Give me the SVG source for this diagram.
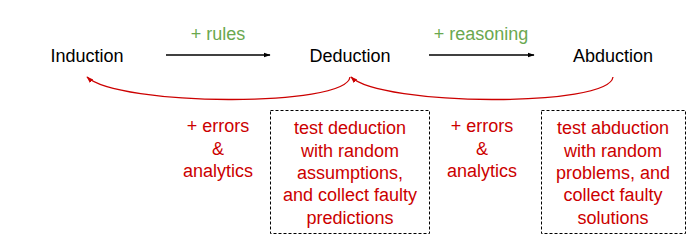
<svg xmlns="http://www.w3.org/2000/svg" width="700" height="248" viewBox="0 0 700 248">
<defs>
<marker id="ab" viewBox="0 0 10 10" refX="9" refY="5" markerWidth="7" markerHeight="7" orient="auto" markerUnits="userSpaceOnUse"><path d="M0,1.5 L10,5 L0,8.5 z" fill="#000"/></marker>
<marker id="ar" viewBox="0 0 10 10" refX="9" refY="5" markerWidth="7" markerHeight="7" orient="auto" markerUnits="userSpaceOnUse"><path d="M0,1.5 L10,5 L0,8.5 z" fill="#cc0000"/></marker>
<style>
text{font-family:"Liberation Sans",Arial,sans-serif;font-size:18px;text-anchor:middle}
.n{fill:#000}
.g{fill:#6aa84f}
.r{fill:#cc0000}
.box{fill:none;stroke:#000;stroke-width:1;stroke-dasharray:3,2}
.blk{fill:none;stroke:#000;stroke-width:1.3}
.red{fill:none;stroke:#cc0000;stroke-width:1.3}
</style>
</defs>
<rect width="700" height="248" fill="#fff"/>
<g id="induction"><text class="n" x="87" y="62">Induction</text></g>
<g id="deduction"><text class="n" x="350" y="62">Deduction</text></g>
<g id="abduction"><text class="n" x="613" y="62">Abduction</text></g>
<g id="connectors">
<path class="blk" d="M166,55 L270,55" marker-end="url(#ab)"/>
<path class="blk" d="M429,55 L534,55" marker-end="url(#ab)"/>
<path class="red" d="M350,77 C346,108 118,106 87,77" marker-end="url(#ar)"/>
<path class="red" d="M613,77 C609,108 381,106 351,77" marker-end="url(#ar)"/>
<text class="g" x="218" y="40">+ rules</text>
<text class="g" x="481" y="40">+ reasoning</text>
</g>
<g id="errors1">
<text class="r" x="218" y="132">+ errors</text>
<text class="r" x="218" y="155">&amp;</text>
<text class="r" x="218" y="177">analytics</text>
</g>
<g id="box1">
<rect class="box" x="270.5" y="110.5" width="159" height="123"/>
<text class="r" x="350" y="134">test deduction</text>
<text class="r" x="350" y="156.5">with random</text>
<text class="r" x="350" y="179">assumptions,</text>
<text class="r" x="350" y="201">and collect faulty</text>
<text class="r" x="350" y="223.5">predictions</text>
</g>
<g id="errors2">
<text class="r" x="482" y="132">+ errors</text>
<text class="r" x="482" y="155">&amp;</text>
<text class="r" x="482" y="177">analytics</text>
</g>
<g id="box2">
<rect class="box" x="541.5" y="110.5" width="144" height="123"/>
<text class="r" x="613" y="134">test abduction</text>
<text class="r" x="613" y="156.5">with random</text>
<text class="r" x="613" y="179">problems, and</text>
<text class="r" x="613" y="201">collect faulty</text>
<text class="r" x="613" y="223.5">solutions</text>
</g>
</svg>
